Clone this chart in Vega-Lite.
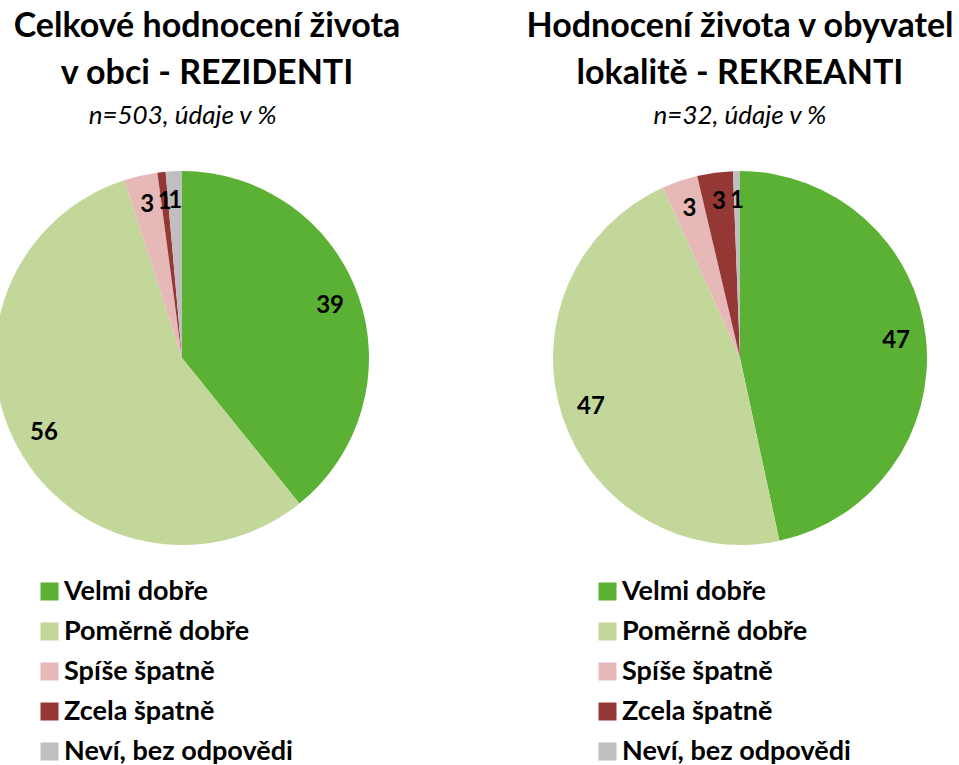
{
  "$schema": "https://vega.github.io/schema/vega-lite/v6.json",
  "padding": {"left": -5, "top": 10, "right": 0, "bottom": 0},
  "background": "white",
  "bounds": "flush",
  "spacing": 189,
  "config": {
    "view": {"stroke": null},
    "font": "Lato",
    "title": {
      "font": "Lato", "fontSize": 34, "fontWeight": "bold", "color": "black",
      "lineHeight": 47, "anchor": "middle",
      "subtitleFont": "Lato", "subtitleFontSize": 26, "subtitleFontStyle": "italic",
      "subtitleFontWeight": "normal", "subtitleColor": "black", "subtitlePadding": 12,
      "offset": 42
    },
    "legend": {
      "title": null, "padding": 0, "symbolType": "square", "symbolSize": 324,
      "symbolStrokeWidth": 0, "symbolOpacity": 1,
      "labelFont": "Lato", "labelFontSize": 27, "labelFontWeight": "bold",
      "labelColor": "black", "labelOffset": 1, "rowPadding": 12, "labelLimit": 400
    }
  },
  "datasets": {
    "d": [
      {"group": "REZIDENTI", "cat": "Velmi dobře", "ord": 1, "value": 39.2},
      {"group": "REZIDENTI", "cat": "Poměrně dobře", "ord": 2, "value": 55.8},
      {"group": "REZIDENTI", "cat": "Spíše špatně", "ord": 3, "value": 2.9},
      {"group": "REZIDENTI", "cat": "Zcela špatně", "ord": 4, "value": 0.7},
      {"group": "REZIDENTI", "cat": "Neví, bez odpovědi", "ord": 5, "value": 1.4},
      {"group": "REKREANTI", "cat": "Velmi dobře", "ord": 1, "value": 46.9},
      {"group": "REKREANTI", "cat": "Poměrně dobře", "ord": 2, "value": 46.9},
      {"group": "REKREANTI", "cat": "Spíše špatně", "ord": 3, "value": 3.1},
      {"group": "REKREANTI", "cat": "Zcela špatně", "ord": 4, "value": 3.1},
      {"group": "REKREANTI", "cat": "Neví, bez odpovědi", "ord": 5, "value": 0.6}
    ]
  },
  "resolve": {"scale": {"color": "independent"}, "legend": {"color": "independent"}},
  "hconcat": [
    {
      "width": 364, "height": 374,
      "title": {
        "text": ["Celkové hodnocení života", "v obci - REZIDENTI"],
        "subtitle": "n=503, údaje v %\u00a0\u00a0\u00a0\u00a0\u00a0\u00a0\u00a0\u00a0\u200b",
        "dx": 25
      },
      "data": {"name": "d"},
      "transform": [{"filter": "datum.group === 'REZIDENTI'"}],
      "encoding": {
        "theta": {"field": "value", "type": "quantitative", "stack": true},
        "order": {"field": "ord", "type": "quantitative"}
      },
      "layer": [
        {
          "mark": {"type": "arc", "outerRadius": 187, "strokeWidth": 0},
          "encoding": {
            "color": {
              "field": "cat", "type": "nominal",
              "scale": {
                "domain": ["Velmi dobře", "Poměrně dobře", "Spíše špatně", "Zcela špatně", "Neví, bez odpovědi"],
                "range": ["#5BB133", "#C4D79B", "#E6B9B8", "#953735", "#BFBFBF"]
              },
              "legend": {"orient": "none", "legendX": 36, "legendY": 407}
            }
          }
        },
        {
          "mark": {"type": "text", "radius": 157, "font": "Lato", "fontSize": 24, "fontWeight": "bold", "color": "black"},
          "encoding": {
            "text": {"field": "value", "type": "quantitative", "format": ".0f"},
            "detail": {"field": "cat", "type": "nominal"}
          }
        }
      ]
    },
    {
      "width": 374, "height": 374,
      "title": {
        "text": ["Hodnocení života v obyvatel", "lokalitě - REKREANTI"],
        "subtitle": "n=32, údaje v %"
      },
      "data": {"name": "d"},
      "transform": [{"filter": "datum.group === 'REKREANTI'"}],
      "encoding": {
        "theta": {"field": "value", "type": "quantitative", "stack": true},
        "order": {"field": "ord", "type": "quantitative"}
      },
      "layer": [
        {
          "mark": {"type": "arc", "outerRadius": 187, "strokeWidth": 0},
          "encoding": {
            "color": {
              "field": "cat", "type": "nominal",
              "scale": {
                "domain": ["Velmi dobře", "Poměrně dobře", "Spíše špatně", "Zcela špatně", "Neví, bez odpovědi"],
                "range": ["#5BB133", "#C4D79B", "#E6B9B8", "#953735", "#BFBFBF"]
              },
              "legend": {"orient": "none", "legendX": 41, "legendY": 407}
            }
          }
        },
        {
          "mark": {"type": "text", "radius": 157, "font": "Lato", "fontSize": 24, "fontWeight": "bold", "color": "black"},
          "encoding": {
            "text": {"field": "value", "type": "quantitative", "format": ".0f"},
            "detail": {"field": "cat", "type": "nominal"}
          }
        }
      ]
    }
  ]
}
